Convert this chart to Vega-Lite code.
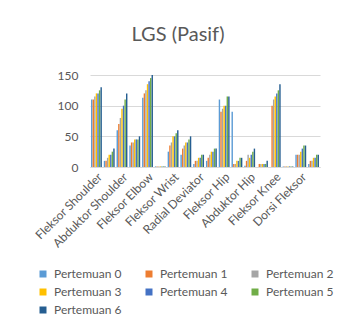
{
  "$schema": "https://vega.github.io/schema/vega-lite/v6.json",
  "autosize": "none",
  "width": 230,
  "height": 92,
  "padding": {"left": 90, "top": 75, "right": 37, "bottom": 156},
  "background": "white",
  "title": {"text": "LGS (Pasif)", "fontSize": 20, "font": "Lato", "fontWeight": "normal", "color": "#595959", "anchor": "middle", "dx": -27, "offset": 24},
  "config": {
    "view": {"stroke": null},
    "font": "Lato",
    "axis": {"labelFont": "Lato", "labelColor": "#595959", "labelFontSize": 12, "titleColor": "#595959"}
  },
  "data": {"values": [
    {"k":"Fleksor Shoulder","p":"Pertemuan 0","v":110},{"k":"Fleksor Shoulder","p":"Pertemuan 1","v":110},{"k":"Fleksor Shoulder","p":"Pertemuan 2","v":115},{"k":"Fleksor Shoulder","p":"Pertemuan 3","v":120},{"k":"Fleksor Shoulder","p":"Pertemuan 4","v":120},{"k":"Fleksor Shoulder","p":"Pertemuan 5","v":125},{"k":"Fleksor Shoulder","p":"Pertemuan 6","v":130},
    {"k":"Ekstensor Shoulder","p":"Pertemuan 0","v":10},{"k":"Ekstensor Shoulder","p":"Pertemuan 1","v":10},{"k":"Ekstensor Shoulder","p":"Pertemuan 2","v":15},{"k":"Ekstensor Shoulder","p":"Pertemuan 3","v":20},{"k":"Ekstensor Shoulder","p":"Pertemuan 4","v":20},{"k":"Ekstensor Shoulder","p":"Pertemuan 5","v":25},{"k":"Ekstensor Shoulder","p":"Pertemuan 6","v":30},
    {"k":"Abduktor Shoulder","p":"Pertemuan 0","v":60},{"k":"Abduktor Shoulder","p":"Pertemuan 1","v":70},{"k":"Abduktor Shoulder","p":"Pertemuan 2","v":80},{"k":"Abduktor Shoulder","p":"Pertemuan 3","v":95},{"k":"Abduktor Shoulder","p":"Pertemuan 4","v":100},{"k":"Abduktor Shoulder","p":"Pertemuan 5","v":110},{"k":"Abduktor Shoulder","p":"Pertemuan 6","v":120},
    {"k":"Adduktor Shoulder","p":"Pertemuan 0","v":35},{"k":"Adduktor Shoulder","p":"Pertemuan 1","v":40},{"k":"Adduktor Shoulder","p":"Pertemuan 2","v":40},{"k":"Adduktor Shoulder","p":"Pertemuan 3","v":45},{"k":"Adduktor Shoulder","p":"Pertemuan 4","v":45},{"k":"Adduktor Shoulder","p":"Pertemuan 5","v":45},{"k":"Adduktor Shoulder","p":"Pertemuan 6","v":50},
    {"k":"Fleksor Elbow","p":"Pertemuan 0","v":113},{"k":"Fleksor Elbow","p":"Pertemuan 1","v":120},{"k":"Fleksor Elbow","p":"Pertemuan 2","v":125},{"k":"Fleksor Elbow","p":"Pertemuan 3","v":135},{"k":"Fleksor Elbow","p":"Pertemuan 4","v":140},{"k":"Fleksor Elbow","p":"Pertemuan 5","v":145},{"k":"Fleksor Elbow","p":"Pertemuan 6","v":150},
    {"k":"Ekstensor Elbow","p":"Pertemuan 0","v":1},{"k":"Ekstensor Elbow","p":"Pertemuan 1","v":1},{"k":"Ekstensor Elbow","p":"Pertemuan 2","v":1},{"k":"Ekstensor Elbow","p":"Pertemuan 3","v":1},{"k":"Ekstensor Elbow","p":"Pertemuan 4","v":1},{"k":"Ekstensor Elbow","p":"Pertemuan 5","v":1},{"k":"Ekstensor Elbow","p":"Pertemuan 6","v":1},
    {"k":"Fleksor Wrist","p":"Pertemuan 0","v":25},{"k":"Fleksor Wrist","p":"Pertemuan 1","v":35},{"k":"Fleksor Wrist","p":"Pertemuan 2","v":40},{"k":"Fleksor Wrist","p":"Pertemuan 3","v":50},{"k":"Fleksor Wrist","p":"Pertemuan 4","v":50},{"k":"Fleksor Wrist","p":"Pertemuan 5","v":55},{"k":"Fleksor Wrist","p":"Pertemuan 6","v":60},
    {"k":"Ekstensor Wrist","p":"Pertemuan 0","v":20},{"k":"Ekstensor Wrist","p":"Pertemuan 1","v":30},{"k":"Ekstensor Wrist","p":"Pertemuan 2","v":35},{"k":"Ekstensor Wrist","p":"Pertemuan 3","v":40},{"k":"Ekstensor Wrist","p":"Pertemuan 4","v":40},{"k":"Ekstensor Wrist","p":"Pertemuan 5","v":45},{"k":"Ekstensor Wrist","p":"Pertemuan 6","v":50},
    {"k":"Radial Deviator","p":"Pertemuan 0","v":5},{"k":"Radial Deviator","p":"Pertemuan 1","v":10},{"k":"Radial Deviator","p":"Pertemuan 2","v":10},{"k":"Radial Deviator","p":"Pertemuan 3","v":15},{"k":"Radial Deviator","p":"Pertemuan 4","v":15},{"k":"Radial Deviator","p":"Pertemuan 5","v":20},{"k":"Radial Deviator","p":"Pertemuan 6","v":20},
    {"k":"Ulnar Deviator","p":"Pertemuan 0","v":10},{"k":"Ulnar Deviator","p":"Pertemuan 1","v":15},{"k":"Ulnar Deviator","p":"Pertemuan 2","v":20},{"k":"Ulnar Deviator","p":"Pertemuan 3","v":25},{"k":"Ulnar Deviator","p":"Pertemuan 4","v":25},{"k":"Ulnar Deviator","p":"Pertemuan 5","v":30},{"k":"Ulnar Deviator","p":"Pertemuan 6","v":30},
    {"k":"Fleksor Hip","p":"Pertemuan 0","v":110},{"k":"Fleksor Hip","p":"Pertemuan 1","v":90},{"k":"Fleksor Hip","p":"Pertemuan 2","v":95},{"k":"Fleksor Hip","p":"Pertemuan 3","v":100},{"k":"Fleksor Hip","p":"Pertemuan 4","v":100},{"k":"Fleksor Hip","p":"Pertemuan 5","v":115},{"k":"Fleksor Hip","p":"Pertemuan 6","v":115},
    {"k":"Ekstensor Hip","p":"Pertemuan 0","v":90},{"k":"Ekstensor Hip","p":"Pertemuan 1","v":5},{"k":"Ekstensor Hip","p":"Pertemuan 2","v":5},{"k":"Ekstensor Hip","p":"Pertemuan 3","v":10},{"k":"Ekstensor Hip","p":"Pertemuan 4","v":10},{"k":"Ekstensor Hip","p":"Pertemuan 5","v":15},{"k":"Ekstensor Hip","p":"Pertemuan 6","v":15},
    {"k":"Abduktor Hip","p":"Pertemuan 0","v":2},{"k":"Abduktor Hip","p":"Pertemuan 1","v":10},{"k":"Abduktor Hip","p":"Pertemuan 2","v":20},{"k":"Abduktor Hip","p":"Pertemuan 3","v":15},{"k":"Abduktor Hip","p":"Pertemuan 4","v":20},{"k":"Abduktor Hip","p":"Pertemuan 5","v":25},{"k":"Abduktor Hip","p":"Pertemuan 6","v":30},
    {"k":"Adduktor Hip","p":"Pertemuan 0","v":0},{"k":"Adduktor Hip","p":"Pertemuan 1","v":5},{"k":"Adduktor Hip","p":"Pertemuan 2","v":5},{"k":"Adduktor Hip","p":"Pertemuan 3","v":5},{"k":"Adduktor Hip","p":"Pertemuan 4","v":5},{"k":"Adduktor Hip","p":"Pertemuan 5","v":5},{"k":"Adduktor Hip","p":"Pertemuan 6","v":10},
    {"k":"Fleksor Knee","p":"Pertemuan 0","v":0},{"k":"Fleksor Knee","p":"Pertemuan 1","v":100},{"k":"Fleksor Knee","p":"Pertemuan 2","v":110},{"k":"Fleksor Knee","p":"Pertemuan 3","v":115},{"k":"Fleksor Knee","p":"Pertemuan 4","v":120},{"k":"Fleksor Knee","p":"Pertemuan 5","v":125},{"k":"Fleksor Knee","p":"Pertemuan 6","v":135},
    {"k":"Ekstensor Knee","p":"Pertemuan 0","v":1},{"k":"Ekstensor Knee","p":"Pertemuan 1","v":1},{"k":"Ekstensor Knee","p":"Pertemuan 2","v":1},{"k":"Ekstensor Knee","p":"Pertemuan 3","v":1},{"k":"Ekstensor Knee","p":"Pertemuan 4","v":1},{"k":"Ekstensor Knee","p":"Pertemuan 5","v":1},{"k":"Ekstensor Knee","p":"Pertemuan 6","v":1},
    {"k":"Dorsi Fleksor","p":"Pertemuan 0","v":20},{"k":"Dorsi Fleksor","p":"Pertemuan 1","v":20},{"k":"Dorsi Fleksor","p":"Pertemuan 2","v":20},{"k":"Dorsi Fleksor","p":"Pertemuan 3","v":25},{"k":"Dorsi Fleksor","p":"Pertemuan 4","v":30},{"k":"Dorsi Fleksor","p":"Pertemuan 5","v":35},{"k":"Dorsi Fleksor","p":"Pertemuan 6","v":35},
    {"k":"Plantar Fleksor","p":"Pertemuan 0","v":5},{"k":"Plantar Fleksor","p":"Pertemuan 1","v":10},{"k":"Plantar Fleksor","p":"Pertemuan 2","v":10},{"k":"Plantar Fleksor","p":"Pertemuan 3","v":15},{"k":"Plantar Fleksor","p":"Pertemuan 4","v":15},{"k":"Plantar Fleksor","p":"Pertemuan 5","v":20},{"k":"Plantar Fleksor","p":"Pertemuan 6","v":20}
  ]},
  "mark": {"type": "bar"},
  "encoding": {
    "x": {
      "field": "k", "type": "nominal", "sort": null,
      "scale": {"paddingInner": 0.15, "paddingOuter": 0.08},
      "axis": {
        "title": null,
        "values": ["Fleksor Shoulder","Abduktor Shoulder","Fleksor Elbow","Fleksor Wrist","Radial Deviator","Fleksor Hip","Abduktor Hip","Fleksor Knee","Dorsi Fleksor"],
        "labelAngle": -45, "ticks": false, "domainColor": "#D9D9D9", "labelPadding": 4
      }
    },
    "xOffset": {"field": "p", "type": "nominal", "sort": null, "scale": {"paddingInner": 0.1}},
    "y": {
      "field": "v", "type": "quantitative",
      "scale": {"domain": [0, 150], "nice": false},
      "axis": {"title": null, "values": [0, 50, 100, 150], "domain": false, "ticks": false, "gridColor": "#D9D9D9", "labelPadding": 12}
    },
    "color": {
      "field": "p", "type": "nominal", "sort": null,
      "scale": {"range": ["#5B9BD5", "#ED7D31", "#A5A5A5", "#FFC000", "#4472C4", "#70AD47", "#255E91"]},
      "legend": {
        "title": null, "orient": "none", "legendX": -53, "legendY": 193, "direction": "horizontal",
        "columns": 3, "symbolType": "square", "symbolSize": 49, "symbolStrokeWidth": 0,
        "labelFont": "Lato", "labelFontSize": 12, "labelColor": "#595959", "labelOffset": 5,
        "columnPadding": 21, "rowPadding": 6, "padding": 0
      }
    }
  }
}
